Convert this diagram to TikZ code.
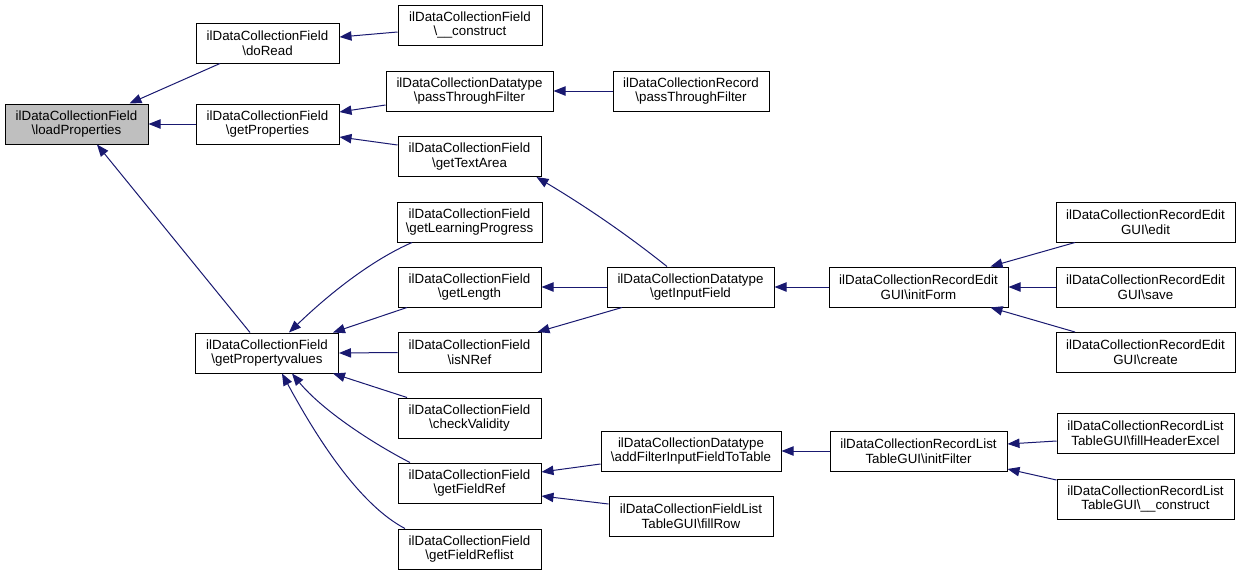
\documentclass[tikz,border=0pt]{standalone}
\usepackage{fontspec}
\setmainfont{Liberation Sans}
\usetikzlibrary{arrows.meta,calc}
\definecolor{edgeblue}{HTML}{191970}
\definecolor{boxgrey}{HTML}{BFBFBF}
\begin{document}
\begin{tikzpicture}[x=0.75pt,y=-0.75pt,
  box/.style={draw=black, line width=0.75pt, rectangle, inner sep=0pt,
    minimum height=30pt, minimum width=#1*0.75pt, align=center,
    font=\fontsize{10}{11}\selectfont, fill=white},
  edge/.style={draw=edgeblue, line width=0.75pt, -{Triangle[length=9pt,width=7pt]}}]
\useasboundingbox (0,0) rectangle (1240,575);
% column 1
\node[box=143, fill=boxgrey] (lp) at (76.5,124) {ilDataCollectionField\\\textbackslash loadProperties};
% column 2
\node[box=143] (doRead) at (267.5,43) {ilDataCollectionField\\\textbackslash doRead};
\node[box=143] (getProp) at (267.5,124) {ilDataCollectionField\\\textbackslash getProperties};
\node[box=143] (getPV) at (267,353) {ilDataCollectionField\\\textbackslash getPropertyvalues};
% column 3
\node[box=144] (cons1) at (470,25) {ilDataCollectionField\\\textbackslash\_\_construct};
\node[box=167] (dtPTF) at (469.5,91) {ilDataCollectionDatatype\\\textbackslash passThroughFilter};
\node[box=143] (getTA) at (469.5,156.5) {ilDataCollectionField\\\textbackslash getTextArea};
\node[box=145] (getLP) at (469.5,222) {ilDataCollectionField\\\textbackslash getLearningProgress};
\node[box=143] (getLen) at (469.5,287) {ilDataCollectionField\\\textbackslash getLength};
\node[box=143] (isNRef) at (469.5,352.5) {ilDataCollectionField\\\textbackslash isNRef};
\node[box=143] (checkV) at (469.5,418) {ilDataCollectionField\\\textbackslash checkValidity};
\node[box=143] (getFR) at (469.5,483) {ilDataCollectionField\\\textbackslash getFieldRef};
\node[box=143] (getFRL) at (469.5,549) {ilDataCollectionField\\\textbackslash getFieldReflist};
% column 4
\node[box=156] (recPTF) at (691,91) {ilDataCollectionRecord\\\textbackslash passThroughFilter};
\node[box=167] (getIF) at (690.5,287) {ilDataCollectionDatatype\\\textbackslash getInputField};
\node[box=180] (addF) at (691,451) {ilDataCollectionDatatype\\\textbackslash addFilterInputFieldToTable};
\node[box=164] (fillRow) at (691,516) {ilDataCollectionFieldList\\TableGUI\textbackslash fillRow};
% column 5
\node[box=179] (initForm) at (918.5,287) {ilDataCollectionRecordEdit\\GUI\textbackslash initForm};
\node[box=177] (initFilter) at (918.5,451) {ilDataCollectionRecordList\\TableGUI\textbackslash initFilter};
% column 6
\node[box=179] (edit) at (1145.5,222) {ilDataCollectionRecordEdit\\GUI\textbackslash edit};
\node[box=179] (save) at (1145.5,287) {ilDataCollectionRecordEdit\\GUI\textbackslash save};
\node[box=179] (create) at (1145.5,352.5) {ilDataCollectionRecordEdit\\GUI\textbackslash create};
\node[box=177] (fhe) at (1145.5,433) {ilDataCollectionRecordList\\TableGUI\textbackslash fillHeaderExcel};
\node[box=177] (rlc) at (1145.5,499) {ilDataCollectionRecordList\\TableGUI\textbackslash\_\_construct};
% edges
\draw[edge] ($(doRead.south)+(-47.5,0)$) -- ($(lp.north)+(53,0)$);
\draw[edge] (getProp.west) -- (lp.east);
\draw[edge] ($(getPV.north)+(-17,0)$) -- ($(lp.south)+(20.5,0)$);
\draw[edge] ($(cons1.west)+(0,7)$) -- ($(doRead.east)+(0,-6)$);
\draw[edge] ($(dtPTF.west)+(0,14)$) -- ($(getProp.east)+(0,-12)$);
\draw[edge] ($(getTA.west)+(0,-11.5)$) -- ($(getProp.east)+(0,13)$);
\draw[edge] (recPTF.west) -- (dtPTF.east);
\draw[edge] ($(getIF.north)+(-23.5,0)$) .. controls (640,245) and (600,215) .. ($(getTA.south)+(67,0)$);
\draw[edge] ($(getLP.south)+(-57.5,0)$) .. controls (372,260) and (330,293) .. ($(getPV.north)+(22,0)$);
\draw[edge] ($(getLen.south)+(-62.5,0)$) -- ($(getPV.north east)+(-6,0)$);
\draw[edge] (isNRef.west) -- (getPV.east);
\draw[edge] ($(checkV.north)+(-62.5,0)$) -- ($(getPV.south east)+(-6,0)$);
\draw[edge] ($(getFR.north)+(-59.5,0)$) .. controls (372,443) and (322,410) .. ($(getPV.south)+(25,0)$);
\draw[edge] ($(getFRL.north)+(-64.5,0)$) .. controls (360,505) and (318,440) .. ($(getPV.south)+(15,0)$);
\draw[edge] (getIF.west) -- (getLen.east);
\draw[edge] ($(getIF.south)+(-68.5,0)$) -- ($(isNRef.north east)+(-4,0)$);
\draw[edge] (initForm.west) -- (getIF.east);
\draw[edge] ($(edit.south)+(-70.5,0)$) -- ($(initForm.north east)+(-18,0)$);
\draw[edge] (save.west) -- (initForm.east);
\draw[edge] ($(create.north)+(-70.5,0)$) -- ($(initForm.south east)+(-18,0)$);
\draw[edge] ($(addF.west)+(0,13)$) -- ($(getFR.east)+(0,-11)$);
\draw[edge] ($(fillRow.west)+(0,-12)$) -- ($(getFR.east)+(0,13)$);
\draw[edge] (initFilter.west) -- (addF.east);
\draw[edge] ($(fhe.west)+(0,8)$) -- ($(initFilter.east)+(0,-7)$);
\draw[edge] ($(rlc.west)+(0,-19)$) -- ($(initFilter.east)+(0,18)$);
\end{tikzpicture}
\end{document}
